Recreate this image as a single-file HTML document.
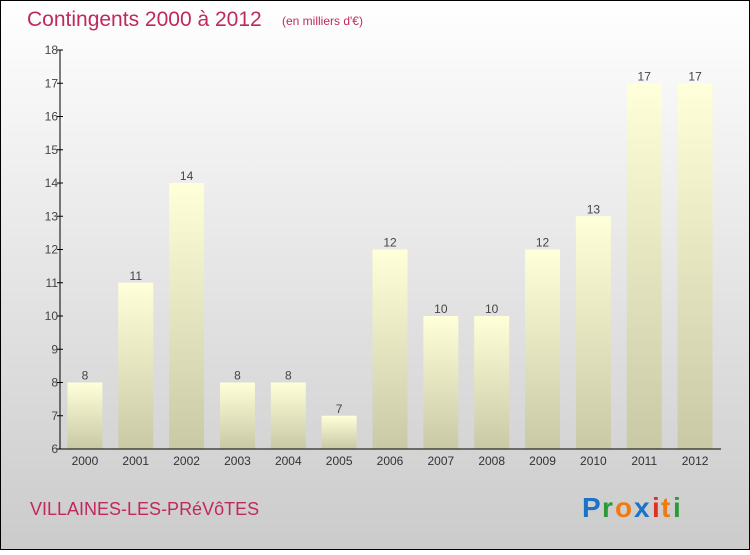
<!DOCTYPE html>
<html><head><meta charset="utf-8"><style>
body{margin:0;width:750px;height:550px;overflow:hidden;font-family:"Liberation Sans",sans-serif}
</style></head><body>
<svg width="750" height="550" xmlns="http://www.w3.org/2000/svg">
<defs>
<linearGradient id="bg" x1="0" y1="0" x2="0" y2="1"><stop offset="0" stop-color="#ffffff"/><stop offset="1" stop-color="#cbcbcb"/></linearGradient>
<linearGradient id="bar" x1="0" y1="0" x2="0" y2="1"><stop offset="0" stop-color="#ffffd9"/><stop offset="1" stop-color="#c9c9a6"/></linearGradient>
</defs>
<rect x="0.5" y="0.5" width="749" height="549" fill="url(#bg)" stroke="#000"/>
<text x="27" y="26" font-size="21" fill="#c0285f">Contingents 2000 à 2012</text>
<text x="282" y="25" font-size="12" fill="#c0285f">(en milliers d'€)</text>
<g id="plot"></g>
<text x="30" y="515" font-size="18" fill="#c0285f">VILLAINES-LES-PRéVôTES</text>
<g font-size="28" font-weight="bold" font-family="Liberation Sans, sans-serif">
<text x="582" y="517" fill="#1a73c8">P</text><text x="602" y="517" fill="#2a9a3a">r</text><text x="615" y="517" fill="#f07a10">o</text><text x="634" y="517" fill="#1a73c8">x</text><text x="652" y="517" fill="#e03020">i</text><text x="661" y="517" fill="#f07a10">t</text><text x="673" y="517" fill="#2a9a3a">i</text>
</g>
</svg>
<script>
const categories=["2000","2001","2002","2003","2004","2005","2006","2007","2008","2009","2010","2011","2012"];
const values=[8,11,14,8,8,7,12,10,10,12,13,17,17];
const yTicks=[6,7,8,9,10,11,12,13,14,15,16,17,18];
const NS="http://www.w3.org/2000/svg";
const g=document.getElementById('plot');
const x0=60,x1=721,yMin=6,yMax=18,yTop=50,yBot=449;
const y=v=>yBot-(v-yMin)/(yMax-yMin)*(yBot-yTop);
const step=(x1-x0)/categories.length;
const xc=i=>x0+step*(i+0.5)-0.5;
function el(t,a,txt){const e=document.createElementNS(NS,t);for(const k in a)e.setAttribute(k,a[k]);if(txt!==undefined)e.textContent=txt;g.appendChild(e);return e;}
values.forEach((v,i)=>{
const r=el('rect',{x:xc(i)-17.5,y:y(v),width:35,height:yBot-y(v),fill:'url(#bar)'});


const t=el('text',{x:xc(i),y:y(v)-3,'font-size':12,fill:'#444','text-anchor':'middle'},String(v));


const c=el('text',{x:xc(i),y:yBot+16,'font-size':12,fill:'#333','text-anchor':'middle'},categories[i]);


});
yTicks.forEach(v=>{
const l=el('line',{x1:x0-3,x2:x0+3,y1:y(v),y2:y(v),stroke:'#000'});


const t=el('text',{x:x0-2,y:y(v)+4,'font-size':12,fill:'#444','text-anchor':'end'},String(v));


});
const ya=el('line',{x1:x0,x2:x0,y1:yTop,y2:yBot,stroke:'#000'});


const xa=el('line',{x1:x0,x2:x1,y1:yBot,y2:yBot,stroke:'#000'});


</script>
</body></html>
